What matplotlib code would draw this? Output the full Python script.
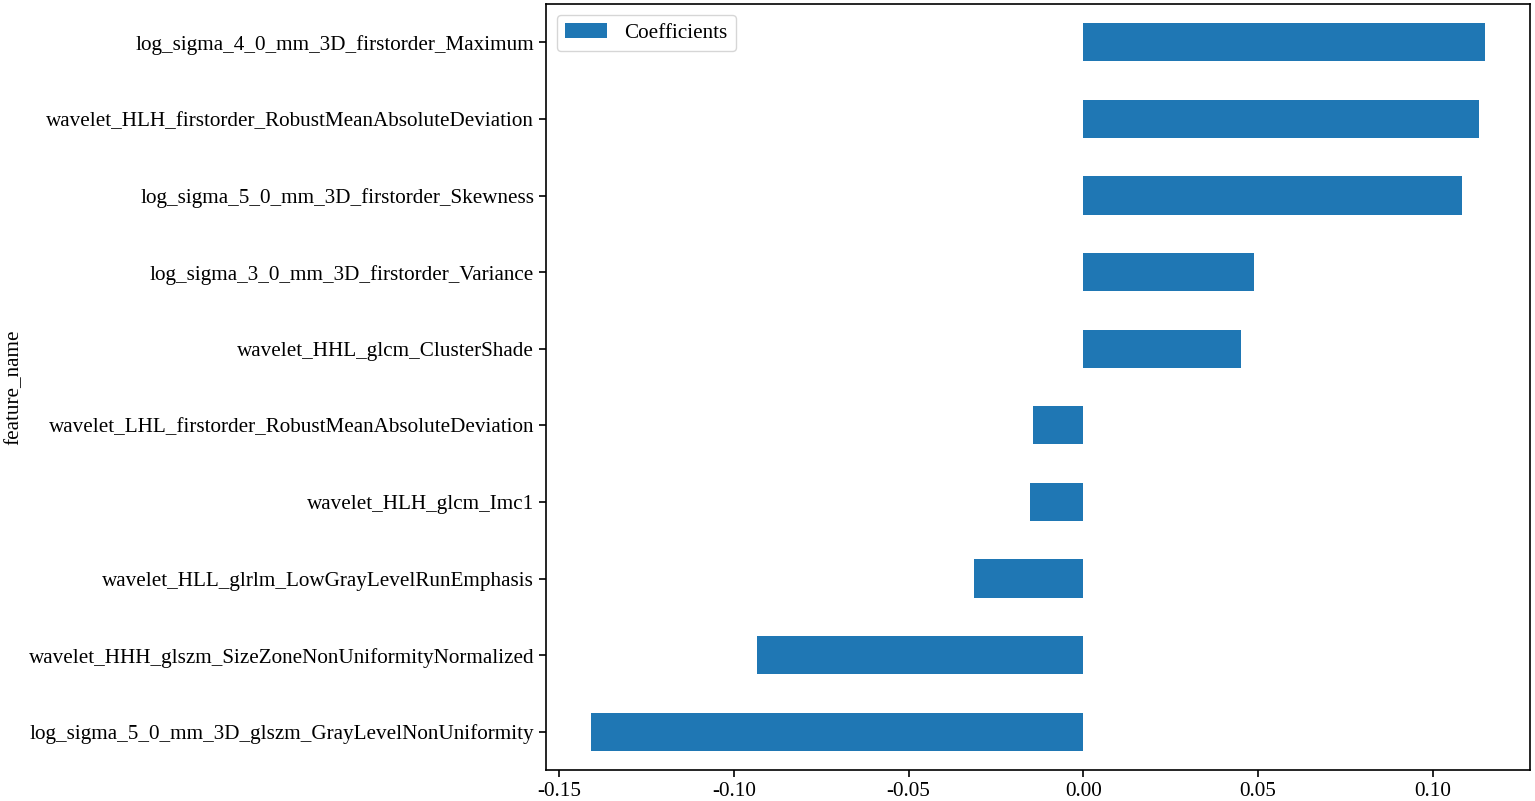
import matplotlib
matplotlib.use("Agg")
import matplotlib.pyplot as plt
import pandas as pd

plt.rcParams['font.family'] = ['Liberation Serif', 'DejaVu Serif']
plt.rcParams['axes.unicode_minus'] = False

feature_names = [
    "log_sigma_5_0_mm_3D_glszm_GrayLevelNonUniformity",
    "wavelet_HHH_glszm_SizeZoneNonUniformityNormalized",
    "wavelet_HLL_glrlm_LowGrayLevelRunEmphasis",
    "wavelet_HLH_glcm_Imc1",
    "wavelet_LHL_firstorder_RobustMeanAbsoluteDeviation",
    "wavelet_HHL_glcm_ClusterShade",
    "log_sigma_3_0_mm_3D_firstorder_Variance",
    "log_sigma_5_0_mm_3D_firstorder_Skewness",
    "wavelet_HLH_firstorder_RobustMeanAbsoluteDeviation",
    "log_sigma_4_0_mm_3D_firstorder_Maximum",
]
coefficients = [-0.1410, -0.0933, -0.0313, -0.0154, -0.0143,
                0.0450, 0.0487, 0.1085, 0.1132, 0.1150]

df = pd.DataFrame({"feature_name": feature_names, "Coefficients": coefficients})
df = df.set_index("feature_name")

fig = plt.figure(figsize=(15.35, 8.01), dpi=100)
ax = fig.add_axes([0.3557, 0.0387, 0.6410, 0.9563])
df.plot(kind="barh", ax=ax, color="#1f77b4")

ax.tick_params(axis="both", labelsize=15.2, length=5, width=1.2)
ax.set_ylabel("feature_name", fontsize=15.2)
ax.yaxis.set_label_coords(-0.5315, 0.5)
for s in ax.spines.values():
    s.set_linewidth(1.2)
ax.legend(loc="upper left", fontsize=15.2)

fig.savefig("out.png", dpi=100)
